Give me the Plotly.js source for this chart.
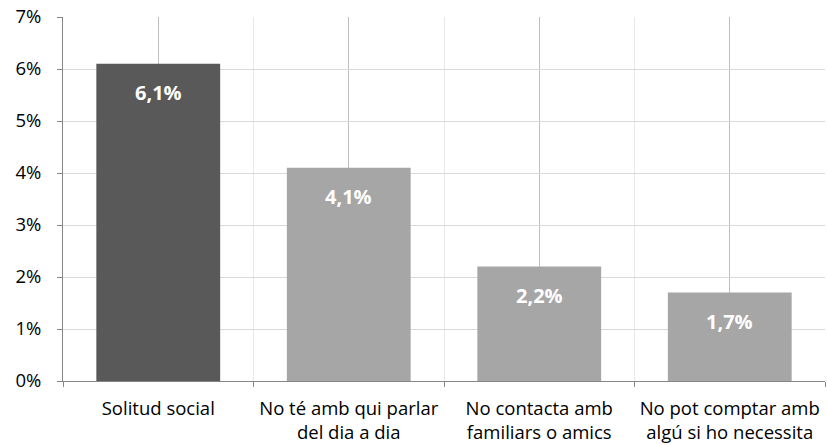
<!DOCTYPE html>
<html>
<head>
<meta charset="utf-8">
<script src="https://cdn.plot.ly/plotly-3.0.1.min.js"></script>
<style>html,body{margin:0;padding:0;background:#fff;}#chart{width:827px;height:445px;}</style>
</head>
<body>
<div id="chart"></div>
<script>
const categories = ["Solitud social", "No té amb qui parlar<br>del dia a dia", "No contacta amb<br>familiars o amics", "No pot comptar amb<br>algú si ho necessita"];
const values = [6.1, 4.1, 2.2, 1.7];
const labels = ["6,1%", "4,1%", "2,2%", "1,7%"];
const barColors = ["#595959", "#a6a6a6", "#a6a6a6", "#a6a6a6"];
const yTicks = [0, 1, 2, 3, 4, 5, 6, 7];
const yTickText = ["0%", "1%", "2%", "3%", "4%", "5%", "6%", "7%"];

const idx = categories.map((c, i) => i);
const font = "'Open Sans', Lato, sans-serif";

const trace = {
  type: "bar",
  x: idx,
  y: values,
  width: 0.65,
  marker: {color: barColors},
  hoverinfo: "none"
};

const annotations = idx.map((i) => ({
  x: i, y: values[i], xref: "x", yref: "y",
  text: "<b>" + labels[i] + "</b>",
  showarrow: false, yshift: -29,
  font: {family: font, size: 20, color: "#ffffff"}
}));

const layout = {
  width: 827, height: 445,
  margin: {l: 63, r: 2, t: 17, b: 64},
  paper_bgcolor: "#ffffff", plot_bgcolor: "#ffffff",
  showlegend: false,
  font: {family: font, color: "#000000"},
  xaxis: {
    range: [-0.5, 3.5],
    tickmode: "array", tickvals: idx, ticktext: categories,
    showgrid: true, gridcolor: "#bfbfbf", gridwidth: 1,
    ticks: "", showline: true, linecolor: "#868686", linewidth: 1,
    zeroline: false,
    ticklabelstandoff: 11,
    tickfont: {family: font, size: 18.5, color: "#000000"},
    minor: {tickmode: "linear", tick0: -0.5, dtick: 1, showgrid: true, gridcolor: "#e8e8e8", ticks: "outside", ticklen: 5, tickcolor: "#868686"},
    fixedrange: true
  },
  yaxis: {
    range: [0, 7],
    tickmode: "array", tickvals: yTicks, ticktext: yTickText,
    showgrid: true, gridcolor: "#d9d9d9", gridwidth: 1,
    ticks: "outside", ticklen: 5, tickcolor: "#868686",
    showline: true, linecolor: "#868686", linewidth: 1,
    zeroline: false,
    ticklabelstandoff: 12,
    tickfont: {family: font, size: 18.5, color: "#000000"},
    fixedrange: true
  },
  annotations: annotations
};

Plotly.newPlot("chart", [trace], layout, {displayModeBar: false, staticPlot: true});
</script>
</body>
</html>
